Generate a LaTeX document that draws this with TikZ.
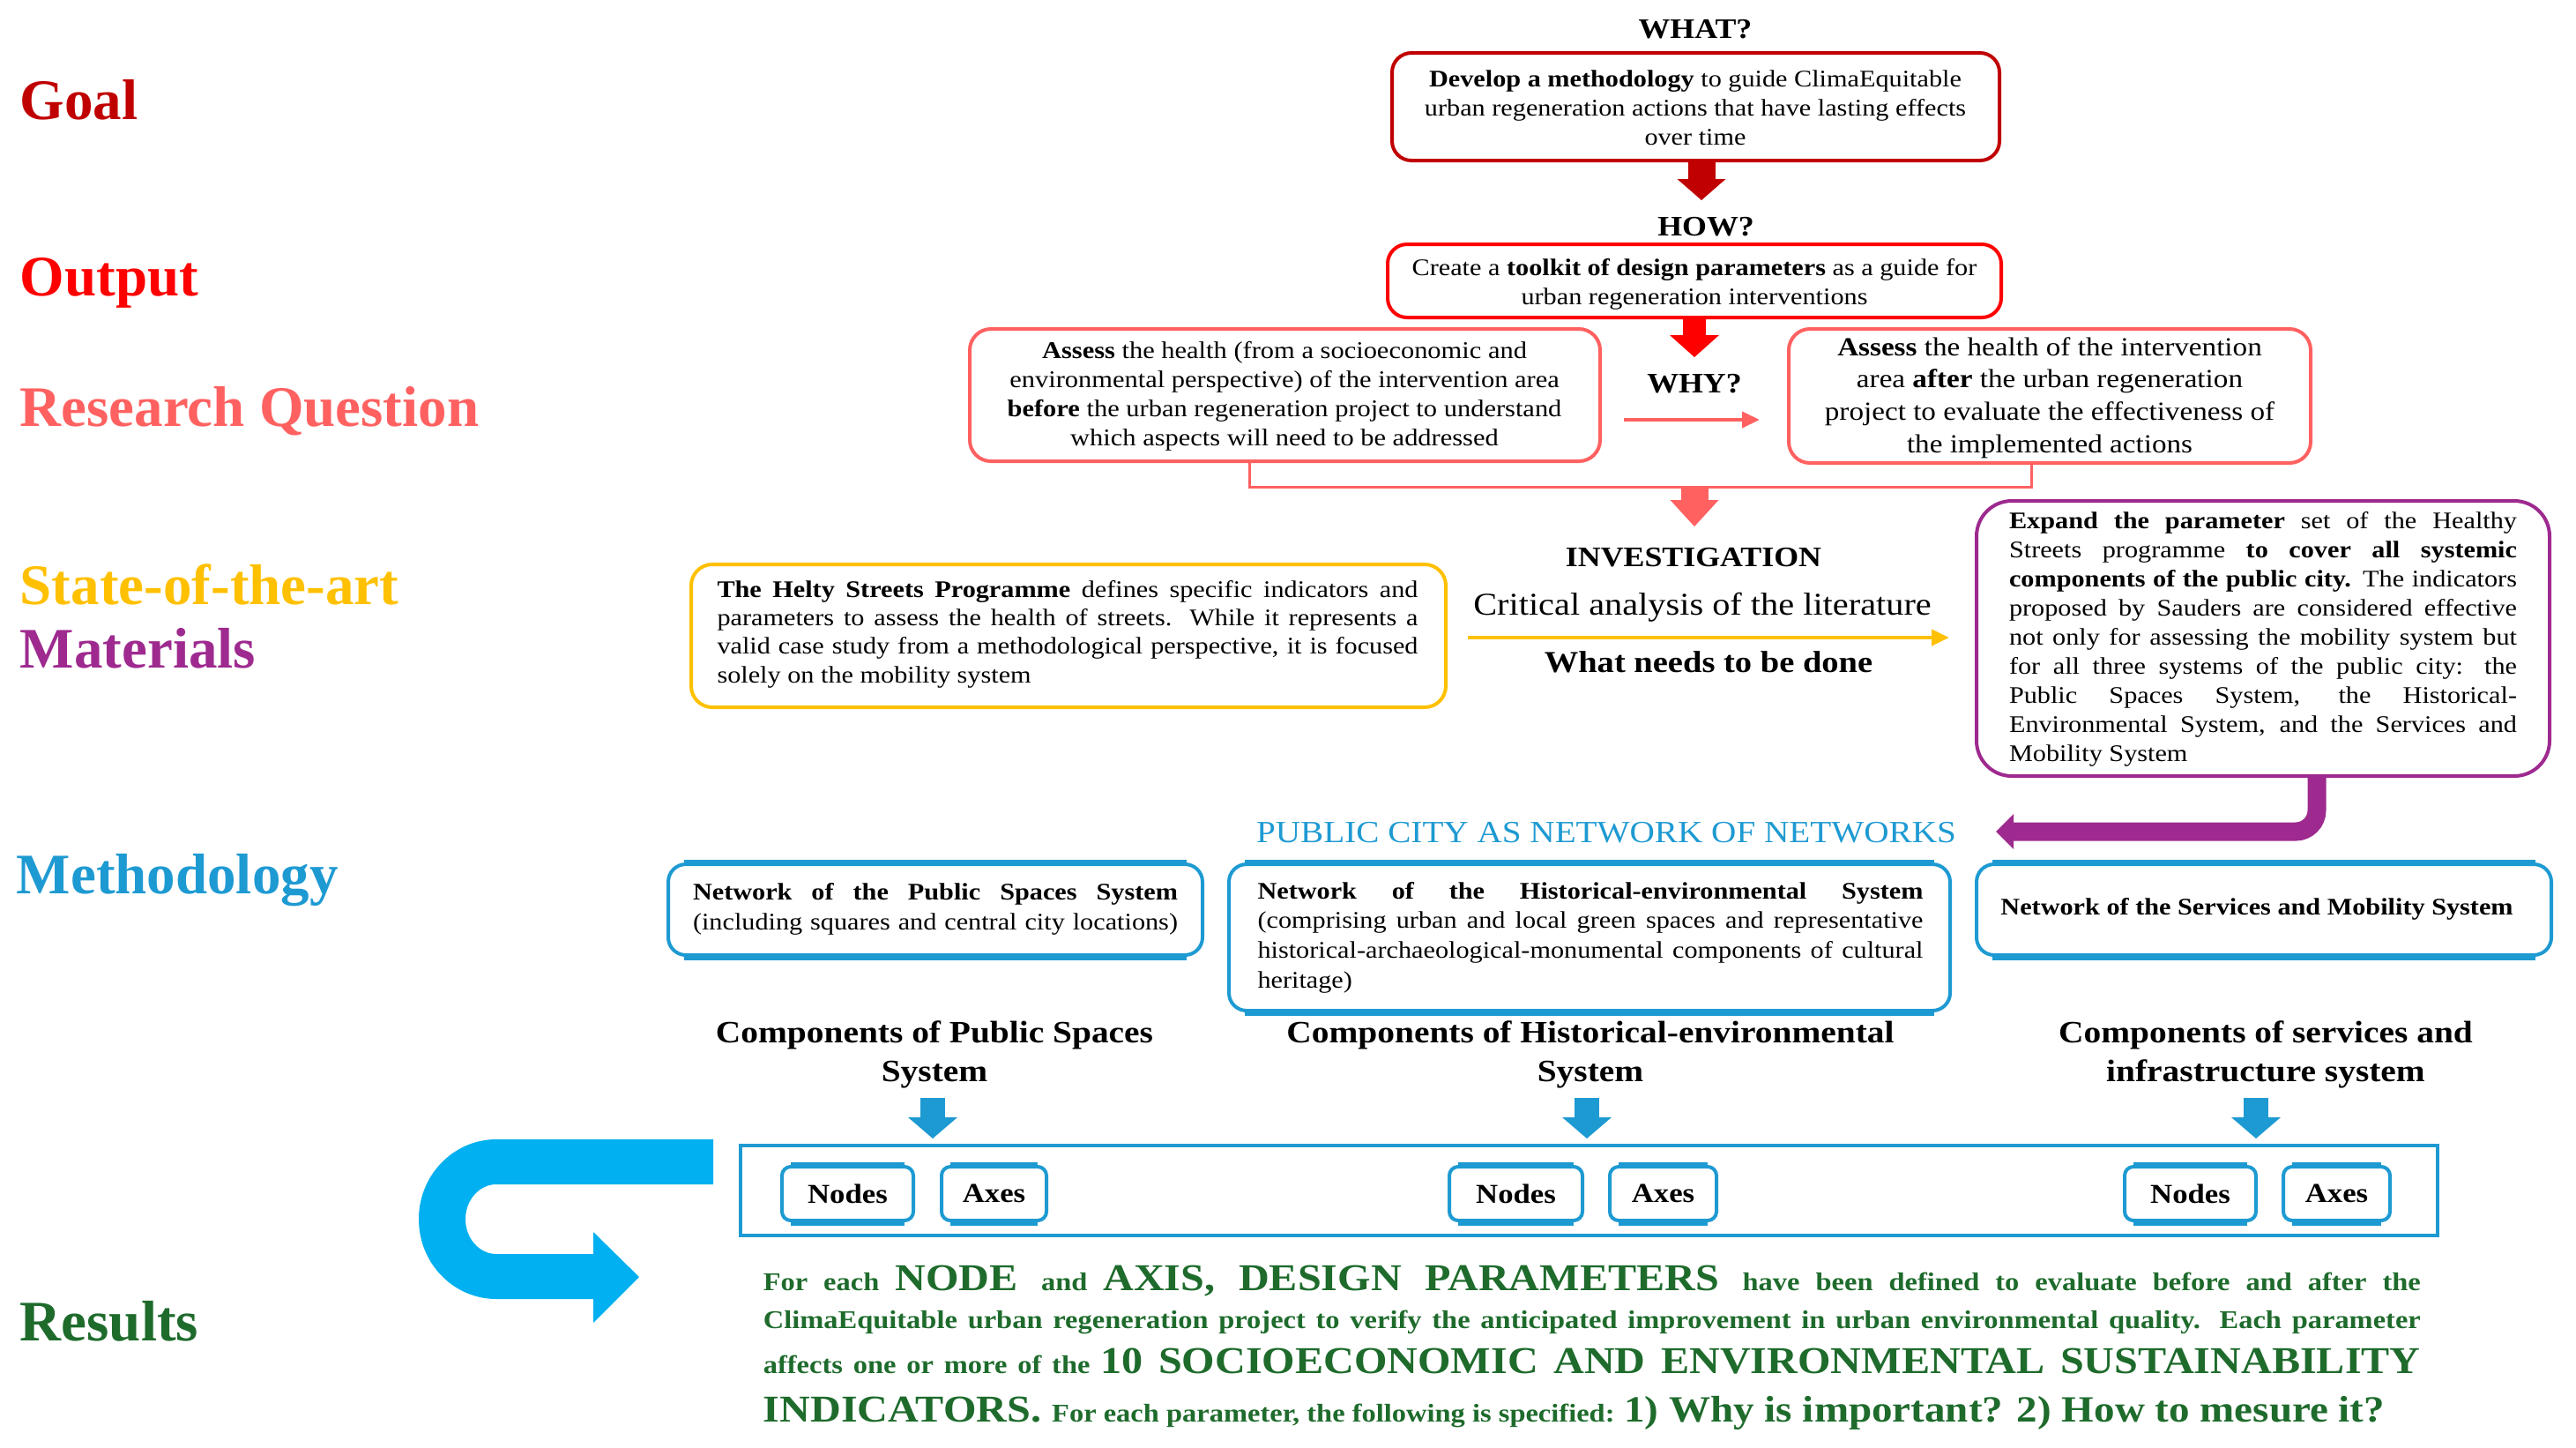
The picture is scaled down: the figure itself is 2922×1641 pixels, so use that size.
\documentclass[tikz,border=0pt]{standalone}
\usepackage{fontspec}
\setmainfont{Liberation Serif}[FakeStretch=1.12]
\newfontfamily\lblfont{Liberation Serif}
\usetikzlibrary{arrows.meta,fit,calc}
\definecolor{cdred}{HTML}{C00000}
\definecolor{cred}{HTML}{FF0000}
\definecolor{csalmon}{HTML}{FF6161}
\definecolor{cyellow}{HTML}{FFC000}
\definecolor{cpurple}{HTML}{9E2A8F}
\definecolor{cblue}{HTML}{1E9AD2}
\definecolor{ccyan}{HTML}{00B0F0}
\definecolor{cgreen}{HTML}{1E6B2C}
\newcommand{\jl}[2]{\makebox[#1][s]{#2}}
\newcommand{\lastln}[2]{\makebox[#1][l]{#2}}
\newcommand{\rsm}{\fontsize{7.25pt}{8.5pt}\selectfont}
\newcommand{\rbg}{\fontsize{10.75pt}{12pt}\selectfont}
\newcommand{\bevel}[2]{%
  \draw[cblue,line width=1.75pt] ([xshift=#2]#1.north west) -- ([xshift=-#2]#1.north east);
  \draw[cblue,line width=1.75pt] ([xshift=#2]#1.south west) -- ([xshift=-#2]#1.south east);}
\begin{document}
\begin{tikzpicture}[x=0.25pt,y=-0.25pt,
  lbl/.style={anchor=base west,inner sep=0pt,font=\lblfont\bfseries\fontsize{16.25pt}{18pt}\selectfont},
  body/.style={inner sep=0pt,font=\fontsize{6.75pt}{8.2pt}\selectfont},
  frame/.style={draw,inner sep=0pt,line width=1pt},
  head/.style={anchor=base,inner sep=0pt,font=\bfseries\fontsize{8pt}{9pt}\selectfont},
  comp/.style={align=center,inner sep=0pt,font=\bfseries\fontsize{8.8pt}{11pt}\selectfont},
  bluebox/.style={frame,draw=cblue,rounded corners=5pt},
  smallbox/.style={draw=cblue,line width=1pt,rounded corners=2.5pt,inner sep=0pt},
  smalltext/.style={inner sep=0pt,font=\bfseries\fontsize{7.75pt}{9pt}\selectfont},
  barrow/.style={draw=cblue,line width=7pt,shorten >=1.5pt,-{Triangle[width=14pt,length=6pt,line width=0pt]}},
  res/.style={anchor=base west,inner sep=0pt,text=cgreen,font=\bfseries}
]
\useasboundingbox (0,0) rectangle (2922,1641);

% ---------- left labels ----------
\node[lbl,text=cdred] (lgoal) at (22,135) {Goal};
\node[lbl,text=cred] (lout) at (22,335) {Output};
\node[lbl,text=csalmon] (lrq) at (22,483) {Research Question};
\node[lbl,text=cyellow] (lsota) at (22,685) {State-of-the-art};
\node[lbl,text=cpurple] (lmat) at (22,757) {Materials};
\node[lbl,text=cblue] (lmeth) at (18,1013) {Methodology};
\node[lbl,text=cgreen] (lres) at (22,1520) {Results};

% ---------- goal / output ----------
\node[head] (what) at (1923,43) {WHAT?};
\node[frame,draw=cdred,rounded corners=5.5pt,fit={(1579,60) (2268,182)}] (goal) {};
\node[body,align=center] (goalt) at (1923,122)
  {\textbf{Develop a methodology} to guide ClimaEquitable\\urban regeneration actions that have lasting effects\\over time};
\node[head] (how) at (1935,267) {HOW?};
\node[frame,draw=cred,rounded corners=5.5pt,fit={(1574,277) (2270,360)}] (out) {};
\node[body,align=center] (outt) at (1922,322)
  {Create a \textbf{toolkit of design parameters} as a guide for\\urban regeneration interventions};

\coordinate (t1) at (1930,227);
\draw[draw=cdred,line width=7.75pt,-{Triangle[width=13.75pt,length=6pt,line width=0pt]}] (goal.south -| t1) -- (t1);
\coordinate (t2) at (1922,405);
\draw[draw=cred,line width=6.5pt,-{Triangle[width=14pt,length=6.25pt,line width=0pt]}] (out.south -| t2) -- (t2);

% ---------- research question ----------
\node[frame,draw=csalmon,rounded corners=6pt,fit={(1100,373) (1815,523)}] (rql) {};
\node[body,align=center,font=\fontsize{6.8pt}{8.25pt}\selectfont] (rqlt) at (1457,449)
  {\textbf{Assess} the health (from a socioeconomic and\\environmental perspective) of the intervention area\\\textbf{before} the urban regeneration project to understand\\which aspects will need to be addressed};
\node[frame,draw=csalmon,rounded corners=6pt,fit={(2029,373) (2621,525)}] (rqr) {};
\node[body,align=center,font=\fontsize{7.4pt}{9.15pt}\selectfont] (rqrt) at (2325,451)
  {\textbf{Assess} the health of the intervention\\area \textbf{after} the urban regeneration\\project to evaluate the effectiveness of\\the implemented actions};
\node[head] (why) at (1922,445) {WHY?};

\coordinate (ya) at (0,476);
\draw[draw=csalmon,line width=1pt,shorten <=6.25pt,shorten >=7.75pt,-{Triangle[width=4.5pt,length=5pt]}] (rql.east |- ya) -- (rqr.west |- ya);
\coordinate (bl) at (1417,552);
\coordinate (br) at (2304,552);
\coordinate (bm) at (1922,552);
\coordinate (t3) at (1922,597);
\draw[csalmon,line width=0.75pt] (rql.south -| bl) -- (bl) -- (br) -- (rqr.south -| br);
\draw[csalmon,line width=7.75pt,-{Triangle[width=13.75pt,length=7.5pt,line width=0pt]}] (bm) -- (t3);

% ---------- investigation ----------
\node[head] (inv) at (1921,642) {INVESTIGATION};
\node[anchor=base,inner sep=0pt,font=\fontsize{9pt}{10pt}\selectfont] (crit) at (1931,697) {Critical analysis of the literature};
\node[anchor=base,inner sep=0pt,font=\bfseries\fontsize{8.6pt}{10pt}\selectfont] (wntd) at (1938,762) {What needs to be done};

\node[frame,draw=cyellow,rounded corners=6pt,fit={(784,640) (1640,802)}] (yel) {};
\node[body,align=left,font=\fontsize{6.75pt}{8.1pt}\selectfont] (yelt) at (1211,719)
  {\jl{198.75pt}{\textbf{The Helty Streets Programme} defines specific indicators and}\\
   \jl{198.75pt}{parameters to assess the health of streets. While it represents a}\\
   \jl{198.75pt}{valid case study from a methodological perspective, it is focused}\\
   \lastln{198.75pt}{solely on the mobility system}};

\node[frame,draw=cpurple,rounded corners=10pt,fit={(2242,568) (2892,880)}] (pur) {};
\node[body,align=left,font=\fontsize{6.75pt}{8.25pt}\selectfont] (purt) at (2567,725)
  {\jl{144pt}{\textbf{Expand the parameter} set of the Healthy}\\
   \jl{144pt}{Streets programme \textbf{to cover all systemic}}\\
   \jl{144pt}{\textbf{components of the public city.} The indicators}\\
   \jl{144pt}{proposed by Sauders are considered effective}\\
   \jl{144pt}{not only for assessing the mobility system but}\\
   \jl{144pt}{for all three systems of the public city: the}\\
   \jl{144pt}{Public Spaces System, the Historical-}\\
   \jl{144pt}{Environmental System, and the Services and}\\
   \lastln{144pt}{Mobility System}};

\coordinate (yy) at (0,723);
\draw[cyellow,line width=1pt,shorten <=5.75pt,shorten >=7.25pt,-{Triangle[width=4.5pt,length=5pt]}] (yel.east |- yy) -- (pur.west |- yy);

\coordinate (pv) at (2628,943);
\coordinate (pt) at (2264,943);
\draw[cpurple,line width=5.25pt,rounded corners=6pt,-{Triangle[width=10pt,length=5pt,line width=0pt]}] (pur.south -| pv) -- (pv) -- (pt);

% ---------- methodology ----------
\node[anchor=base,inner sep=0pt,text=cblue,font=\fontsize{8.75pt}{10pt}\selectfont] (pcn) at (1822,955) {PUBLIC CITY AS NETWORK OF NETWORKS};

\node[bluebox,fit={(758,980) (1364,1083)}] (n1) {};
\bevel{n1}{5pt}
\node[body,align=left,font=\fontsize{6.75pt}{8.4pt}\selectfont] (n1t) at (1061,1031)
  {\jl{137.5pt}{\textbf{Network of the Public Spaces System}}\\
   \jl{137.5pt}{(including squares and central city locations)}};
\node[bluebox,fit={(1394,980) (2212,1146)}] (n2) {};
\bevel{n2}{5pt}
\node[body,align=left,font=\fontsize{6.75pt}{8.4pt}\selectfont] (n2t) at (1804,1063)
  {\jl{188.75pt}{\textbf{Network of the Historical-environmental System}}\\
   \jl{188.75pt}{(comprising urban and local green spaces and representative}\\
   \jl{188.75pt}{historical-archaeological-monumental components of cultural}\\
   \lastln{188.75pt}{heritage)}};
\node[bluebox,fit={(2242,980) (2894,1083)}] (n3) {};
\bevel{n3}{5pt}
\node[body,font=\bfseries\fontsize{6.75pt}{8pt}\selectfont] (n3t) at (2560,1031)
  {Network of the Services and Mobility System};

\node[comp] (c1) at (1060,1196) {Components of Public Spaces\\System};
\node[comp] (c2) at (1804,1196) {Components of Historical-environmental\\System};
\node[comp] (c3) at (2570,1196) {Components of services and\\infrastructure system};

\node[draw=cblue,line width=1pt,inner sep=0pt,fit={(840,1299) (2765,1401)}] (sys) {};

\coordinate (a1) at (1058,1245);
\coordinate (a2) at (1800,1245);
\coordinate (a3) at (2559,1245);
\draw[barrow] (a1) -- (sys.north -| a1);
\draw[barrow] (a2) -- (sys.north -| a2);
\draw[barrow] (a3) -- (sys.north -| a3);

\node[smallbox,fit={(887,1323) (1036,1384)}] (nd1) {};
\node[smallbox,fit={(1068,1323) (1187,1384)}] (ax1) {};
\node[smallbox,fit={(1644,1323) (1795,1384)}] (nd2) {};
\node[smallbox,fit={(1826,1323) (1947,1384)}] (ax2) {};
\node[smallbox,fit={(2410,1323) (2559,1384)}] (nd3) {};
\node[smallbox,fit={(2590,1323) (2711,1384)}] (ax3) {};
\bevel{nd1}{3pt}\bevel{ax1}{3pt}\bevel{nd2}{3pt}\bevel{ax2}{3pt}\bevel{nd3}{3pt}\bevel{ax3}{3pt}
\node[smalltext] (nd1t) at (nd1.center) {Nodes};
\node[smalltext] (ax1t) at (ax1.center) {Axes};
\node[smalltext] (nd2t) at (nd2.center) {Nodes};
\node[smalltext] (ax2t) at (ax2.center) {Axes};
\node[smalltext] (nd3t) at (nd3.center) {Nodes};
\node[smalltext] (ax3t) at (ax3.center) {Axes};

% ---------- U-turn arrow ----------
\fill[ccyan] (809,1292) -- (563,1292)
  arc[start angle=90,end angle=270,x radius=22pt,y radius=22.625pt]
  -- (673,1473) -- (673,1500) -- (725,1448) -- (673,1397) -- (673,1422) -- (563,1422)
  arc[start angle=270,end angle=90,x radius=8.75pt,y radius=9.875pt]
  -- (809,1343) -- cycle;

% ---------- results ----------
\node[res] (r1) at (865,1463) {\jl{470pt}{\rsm For each \rbg NODE \rsm and \rbg AXIS, DESIGN PARAMETERS \rsm have been defined to evaluate before and after the}};
\node[res] (r2) at (865,1506) {\jl{470pt}{\rsm ClimaEquitable urban regeneration project to verify the anticipated improvement in urban environmental quality. Each parameter}};
\node[res] (r3) at (865,1557) {\jl{470pt}{\rsm affects one or more of the \rbg 10 SOCIOECONOMIC AND ENVIRONMENTAL SUSTAINABILITY}};
\node[res] (r4) at (865,1612) {\rbg INDICATORS. \rsm For each parameter, the following is specified: \fontsize{10.5pt}{12pt}\selectfont 1) Why is important? 2) How to mesure it?};
\end{tikzpicture}
\end{document}
